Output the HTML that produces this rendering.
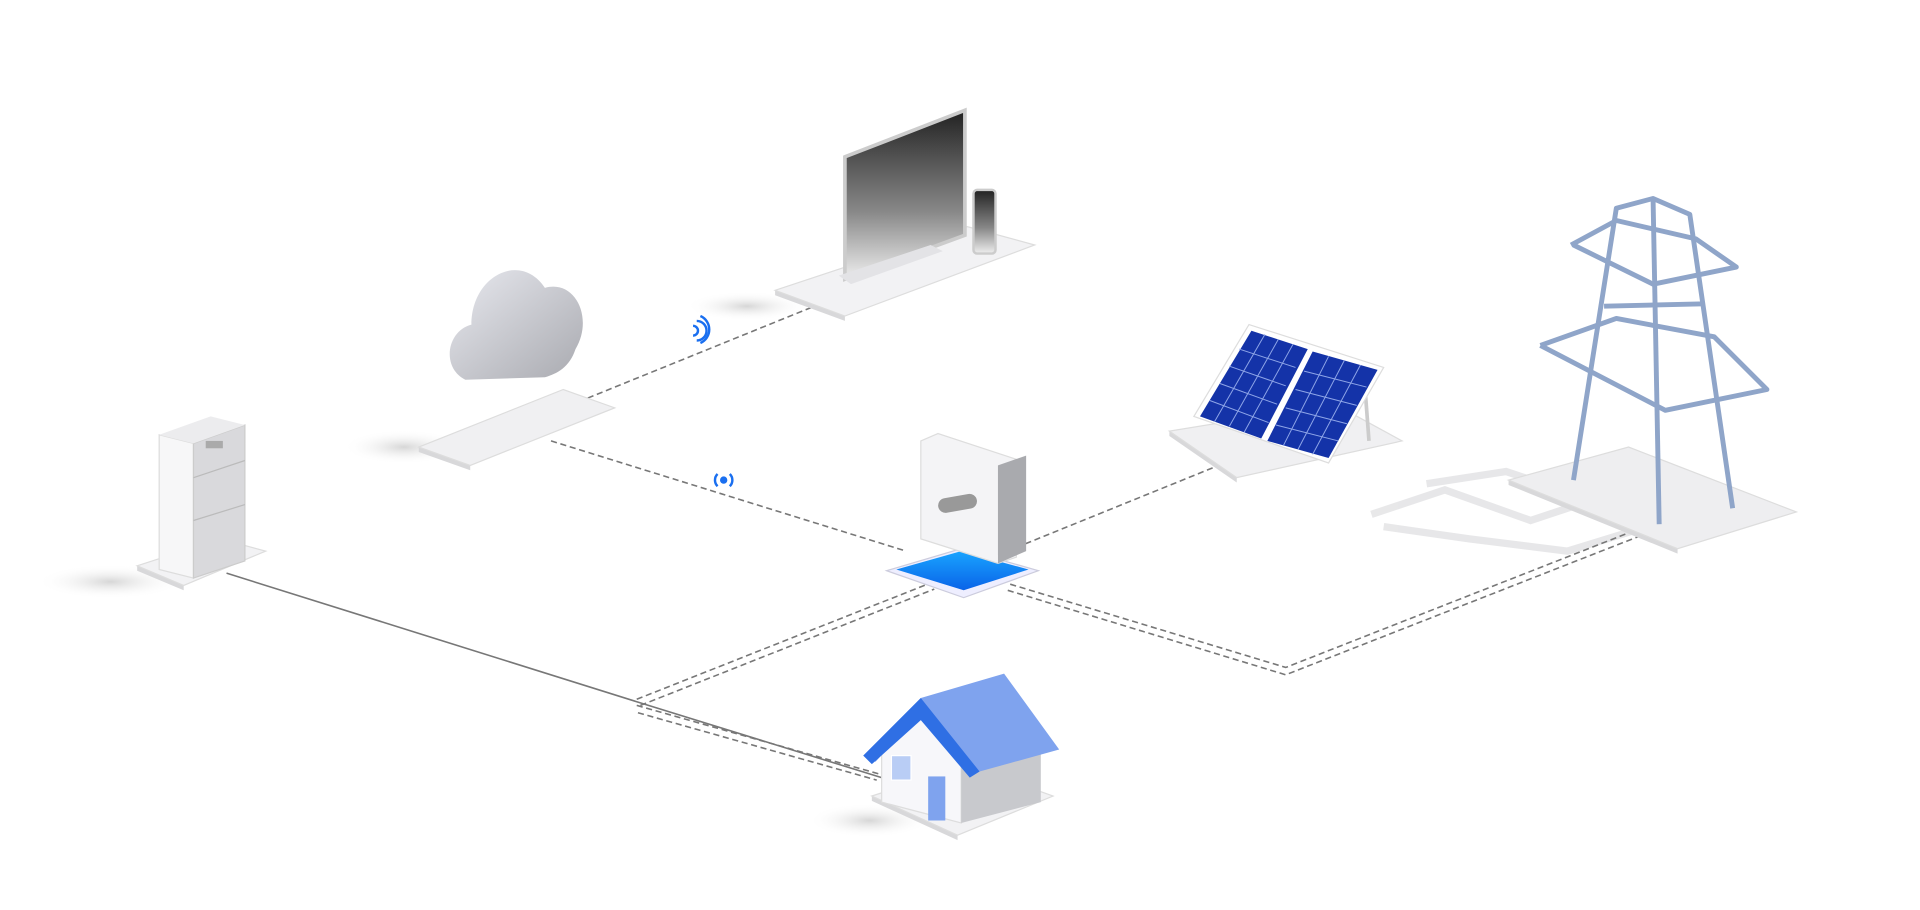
<!DOCTYPE html>
<html><head><meta charset="utf-8"><style>
html,body{margin:0;padding:0;background:#fff;width:1920px;height:910px;overflow:hidden}
svg{display:block}
</style></head><body>
<svg width="1920" height="910" viewBox="0 0 1568 743" xmlns="http://www.w3.org/2000/svg">
<defs>
<linearGradient id="scr" x1="0" y1="0" x2="0" y2="1"><stop offset="0" stop-color="#222"/><stop offset="0.6" stop-color="#888"/><stop offset="1" stop-color="#eee"/></linearGradient>
<linearGradient id="cl" x1="0" y1="0" x2="1" y2="1"><stop offset="0" stop-color="#e8e9ef"/><stop offset="1" stop-color="#a9aab0"/></linearGradient>
<radialGradient id="sh"><stop offset="0" stop-color="#bbb" stop-opacity=".6"/><stop offset="1" stop-color="#fff" stop-opacity="0"/></radialGradient>
<linearGradient id="inv" x1="0" y1="0" x2="0" y2="1"><stop offset="0" stop-color="#19a4ff"/><stop offset="1" stop-color="#0a63e8"/></linearGradient>
</defs>
<ellipse cx="90" cy="475" rx="60" ry="14" fill="url(#sh)"/>
<ellipse cx="330" cy="365" rx="50" ry="14" fill="url(#sh)"/>
<ellipse cx="610" cy="250" rx="50" ry="12" fill="url(#sh)"/>
<ellipse cx="710" cy="670" rx="50" ry="14" fill="url(#sh)"/>
<g fill="none" stroke="#e2e2e4" stroke-width="6" opacity=".8">
<polyline points="1120,420 1180,400 1250,425 1310,405 1345,430 1280,450 1200,440 1130,430"/>
<polyline points="1165,395 1230,385 1290,405"/>
</g>
<g fill="none" stroke="#777" stroke-width="1.3">
<polyline points="185,468 520,573 720,635"/>
</g>
<g fill="none" stroke="#777" stroke-width="1.3" stroke-dasharray="5,3">
<line x1="520" y1="571" x2="760" y2="476"/><line x1="523" y1="576" x2="763" y2="481"/>
<line x1="520" y1="576" x2="718" y2="632"/><line x1="521" y1="582" x2="716" y2="637"/>
<polyline points="825,477 1050,545 1343,430"/><polyline points="823,482 1050,551 1346,435"/>
<line x1="450" y1="360" x2="740" y2="450"/>
<line x1="480" y1="325" x2="670" y2="248"/>
<line x1="830" y1="447" x2="1015" y2="372"/>
</g>
<!-- battery -->
<polygon points="112,462 150,478 150,482 112,466" fill="#d8d8da"/>
<polygon points="112,462 180,440 217,450 150,478" fill="#f2f2f4" stroke="#ddd"/>
<polygon points="130,355 130,465 158,472 158,362" fill="#f7f7f8" stroke="#ddd"/>
<polygon points="158,362 158,472 200,458 200,347" fill="#d9d9dc" stroke="#ccc"/>
<polygon points="130,355 172,340 200,347 158,362" fill="#ececee"/>
<line x1="158" y1="390" x2="200" y2="376" stroke="#bbb"/><line x1="158" y1="425" x2="200" y2="412" stroke="#bbb"/>
<rect x="168" y="360" width="14" height="6" fill="#aaa"/>
<!-- cloud -->
<polygon points="342,365 384,380 384,384 342,369" fill="#d8d8da"/>
<polygon points="342,365 460,318 502,333 384,380" fill="#f0f0f2" stroke="#ddd"/>
<path d="M380 310 C360 300 365 270 385 265 C385 225 425 205 445 235 C470 228 485 260 470 285 C465 300 455 305 445 308 Z" fill="url(#cl)"/>
<!-- monitor -->
<polygon points="633,237 690,258 690,262 633,241" fill="#d8d8da"/>
<polygon points="633,237 790,185 845,200 690,258" fill="#f2f2f4" stroke="#ddd"/>
<polygon points="690,128 788,90 788,192 690,228" fill="url(#scr)" stroke="#ccc" stroke-width="3"/>
<polygon points="685,225 760,200 770,205 695,232" fill="#e3e3e6"/>
<rect x="795" y="155" width="18" height="52" rx="3" fill="url(#scr)" stroke="#ccc" stroke-width="2"/>
<g fill="none" stroke="#1a6ff0" stroke-width="2">
<path d="M566 266 a4 4 0 0 1 0 8"/><path d="M569 262 a8 8 0 0 1 0 16"/><path d="M572 258 a12 12 0 0 1 0 22"/>
<circle cx="591" cy="392" r="2" fill="#1a6ff0"/><path d="M586 387 a7 7 0 0 0 0 10 M596 387 a7 7 0 0 1 0 10"/>
</g>
<!-- inverter -->
<polygon points="724,466 785,448 848,466 787,488" fill="#eef" stroke="#ccd"/>
<polygon points="732,465 785,450 840,465 787,482" fill="url(#inv)"/>
<polygon points="752,360 766,354 830,375 830,455 815,460 752,440" fill="#f4f4f6" stroke="#ddd"/>
<polygon points="815,380 838,372 838,450 815,460" fill="#a9aaae"/>
<rect x="766" y="405" width="32" height="12" rx="6" fill="#999" transform="rotate(-10 782 411)"/>
<!-- solar -->
<polygon points="955,352 1010,390 1010,394 955,356" fill="#d8d8da"/>
<polygon points="955,352 1090,330 1145,360 1010,390" fill="#f0f0f2" stroke="#ddd"/>
<line x1="1115" y1="320" x2="1118" y2="360" stroke="#ccc" stroke-width="3"/>
<polygon points="975,340 1020,265 1130,300 1085,378" fill="#fff" stroke="#ddd"/>
<polygon points="980,340 1022,270 1068,285 1030,358" fill="#1433a8"/>
<polygon points="1035,360 1072,287 1125,302 1085,374" fill="#1433a8"/>
<g stroke="#8fa6e8" stroke-width="0.8">
<line x1="988" y1="327" x2="1036" y2="345"/><line x1="996" y1="313" x2="1043" y2="330"/><line x1="1004" y1="299" x2="1050" y2="315"/><line x1="1012" y1="285" x2="1058" y2="300"/>
<line x1="1042" y1="347" x2="1093" y2="360"/><line x1="1050" y1="333" x2="1100" y2="346"/><line x1="1058" y1="318" x2="1108" y2="331"/><line x1="1065" y1="303" x2="1116" y2="316"/>
<line x1="992" y1="344" x2="1033" y2="273"/><line x1="1004" y1="348" x2="1044" y2="277"/><line x1="1016" y1="353" x2="1056" y2="281"/>
<line x1="1048" y1="364" x2="1085" y2="291"/><line x1="1060" y1="367" x2="1098" y2="294"/><line x1="1072" y1="371" x2="1111" y2="298"/>
</g>
<!-- tower -->
<polygon points="1232,392 1370,448 1370,452 1232,396" fill="#d8d8da"/>
<polygon points="1232,392 1330,365 1467,418 1370,448" fill="#eeeef0" stroke="#ddd"/>
<g fill="none" stroke="#8fa5c9" stroke-width="4" stroke-linejoin="round">
<polyline points="1285,392 1320,170 1350,162 1380,175 1415,415"/>
<polyline points="1350,162 1355,428"/>
<polyline points="1283,200 1320,180 1385,195 1418,218 1350,232 1285,200"/>
<polyline points="1258,282 1320,260 1400,275 1443,318 1360,335 1258,282"/>
<polyline points="1310,250 1392,248 M1305,300 1400,300 M1298,350 1405,350 M1320,172 1392,245 M1380,175 1312,250 M1310,250 1400,350 M1400,300 1298,350"/>
</g>
<!-- house -->
<polygon points="712,650 782,682 782,686 712,654" fill="#d8d8da"/>
<polygon points="712,650 790,625 860,650 782,682" fill="#f2f2f4" stroke="#ddd"/>
<polygon points="720,610 752,578 785,612 785,672 720,655" fill="#f7f7fa" stroke="#ddd"/>
<polygon points="785,612 850,596 850,655 785,672" fill="#c8c9cd"/>
<polygon points="705,617 752,570 820,550 865,612 800,630 752,582 715,622" fill="#7fa3ee"/>
<polygon points="705,617 752,570 800,630 792,635 752,588 712,624" fill="#2f6fe4"/>
<rect x="758" y="634" width="14" height="36" fill="#7fa3ee"/>
<rect x="728" y="617" width="16" height="20" fill="#b9cdf5" stroke="#fff"/>
</svg>
</body></html>
